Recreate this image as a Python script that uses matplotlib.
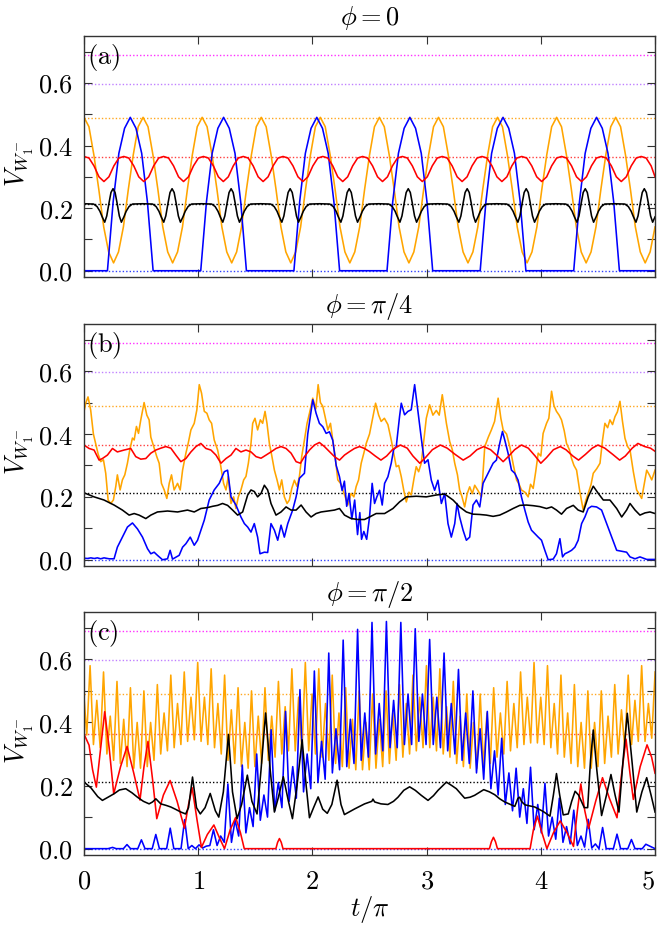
import numpy as np
import matplotlib
matplotlib.use("Agg")
import matplotlib.pyplot as plt

plt.rcParams['mathtext.fontset'] = 'cm'
plt.rcParams['font.family'] = 'serif'
plt.rcParams['font.serif'] = ['DejaVu Serif']

# reference levels (dotted lines), same in all panels
ref_levels = [0.0, 0.212, 0.364, 0.489, 0.597, 0.69]
ref_colors = ['#3040ff', '#000000', '#ff4040', '#ffa820', '#c080ff', '#ff30ff']

titles = [r'$\phi=0$', r'$\phi=\pi/4$', r'$\phi=\pi/2$']
labels = [r'$\mathrm{(a)}$', r'$\mathrm{(b)}$', r'$\mathrm{(c)}$']
ytick_vals = [0.0, 0.1, 0.2, 0.3, 0.4, 0.5, 0.6, 0.7]
ytick_text = ['$0.0$', '', '$0.2$', '', '$0.4$', '', '$0.6$', '']
xtick_vals = [0, 1, 2, 3, 4, 5]

# ---------------- panel (a): phi = 0 ----------------
t_orange_a = np.linspace(0, 5, 117)
orange_a = [
    0.49, 0.46, 0.37, 0.26, 0.14, 0.06, 0.025, 0.06, 0.14, 0.26, 0.37, 0.46,
    0.49, 0.46, 0.37, 0.26, 0.14, 0.06, 0.025, 0.06, 0.14, 0.26, 0.37, 0.46,
    0.49, 0.46, 0.37, 0.26, 0.14, 0.06, 0.025, 0.06, 0.14, 0.26, 0.37, 0.46,
    0.49, 0.46, 0.37, 0.26, 0.14, 0.06, 0.025, 0.06, 0.14, 0.26, 0.37, 0.46,
    0.49, 0.46, 0.37, 0.26, 0.14, 0.06, 0.025, 0.06, 0.14, 0.26, 0.37, 0.46,
    0.49, 0.46, 0.37, 0.26, 0.14, 0.06, 0.025, 0.06, 0.14, 0.26, 0.37, 0.46,
    0.49, 0.46, 0.37, 0.26, 0.14, 0.06, 0.025, 0.06, 0.14, 0.26, 0.37, 0.46,
    0.49, 0.46, 0.37, 0.26, 0.14, 0.06, 0.025, 0.06, 0.14, 0.26, 0.37, 0.46,
    0.49, 0.46, 0.37, 0.26, 0.14, 0.06, 0.025, 0.06, 0.14, 0.26, 0.37, 0.46,
    0.49, 0.46, 0.37, 0.26, 0.14, 0.06, 0.025, 0.06, 0.14,
]

t_red_a = np.append(0.04356 * np.arange(115), 5.0)
red_a = [
    0.365, 0.36, 0.335, 0.30, 0.285, 0.30, 0.335, 0.36,
    0.365, 0.36, 0.335, 0.30, 0.285, 0.30, 0.335, 0.36,
    0.365, 0.36, 0.335, 0.30, 0.285, 0.30, 0.335, 0.36,
    0.365, 0.36, 0.335, 0.30, 0.285, 0.30, 0.335, 0.36,
    0.365, 0.36, 0.335, 0.30, 0.285, 0.30, 0.335, 0.36,
    0.365, 0.36, 0.335, 0.30, 0.285, 0.30, 0.335, 0.36,
    0.365, 0.36, 0.335, 0.30, 0.285, 0.30, 0.335, 0.36,
    0.365, 0.36, 0.335, 0.30, 0.285, 0.30, 0.335, 0.36,
    0.365, 0.36, 0.335, 0.30, 0.285, 0.30, 0.335, 0.36,
    0.365, 0.36, 0.335, 0.30, 0.285, 0.30, 0.335, 0.36,
    0.365, 0.36, 0.335, 0.30, 0.285, 0.30, 0.335, 0.36,
    0.365, 0.36, 0.335, 0.30, 0.285, 0.30, 0.335, 0.36,
    0.365, 0.36, 0.335, 0.30, 0.285, 0.30, 0.335, 0.36,
    0.365, 0.36, 0.335, 0.30, 0.285, 0.30, 0.335, 0.36,
    0.365, 0.36, 0.335, 0.30,
]

blue_a = [
    (0.0, 0.0),
    (0.205, 0), (0.230, 0.11), (0.255, 0.22), (0.305, 0.375), (0.355, 0.455), (0.405, 0.49),
    (0.455, 0.455), (0.505, 0.375), (0.555, 0.22), (0.580, 0.11), (0.605, 0),
    (1.022, 0), (1.047, 0.11), (1.072, 0.22), (1.122, 0.375), (1.172, 0.455), (1.222, 0.49),
    (1.272, 0.455), (1.322, 0.375), (1.372, 0.22), (1.397, 0.11), (1.422, 0),
    (1.838, 0), (1.863, 0.11), (1.888, 0.22), (1.938, 0.375), (1.988, 0.455), (2.038, 0.49),
    (2.088, 0.455), (2.138, 0.375), (2.188, 0.22), (2.213, 0.11), (2.238, 0),
    (2.653, 0), (2.678, 0.11), (2.703, 0.22), (2.753, 0.375), (2.803, 0.455), (2.853, 0.49),
    (2.903, 0.455), (2.953, 0.375), (3.003, 0.22), (3.028, 0.11), (3.053, 0),
    (3.469, 0), (3.494, 0.11), (3.519, 0.22), (3.569, 0.375), (3.619, 0.455), (3.669, 0.49),
    (3.719, 0.455), (3.769, 0.375), (3.819, 0.22), (3.844, 0.11), (3.869, 0),
    (4.288, 0), (4.313, 0.11), (4.338, 0.22), (4.388, 0.375), (4.438, 0.455), (4.488, 0.49),
    (4.538, 0.455), (4.588, 0.375), (4.638, 0.22), (4.663, 0.11), (4.688, 0),
    (5.0, 0.0),
]

black_a = [
    (0.0, 0.214),
    (0.084, 0.213), (0.114, 0.205), (0.139, 0.19), (0.159, 0.172), (0.181, 0.155), (0.199, 0.175),
    (0.218, 0.215), (0.236, 0.25), (0.254, 0.262), (0.272, 0.25), (0.290, 0.215), (0.309, 0.175),
    (0.327, 0.155), (0.349, 0.172), (0.369, 0.19), (0.394, 0.205), (0.424, 0.213), (0.513, 0.214),
    (0.601, 0.213), (0.631, 0.205), (0.656, 0.19), (0.676, 0.172), (0.698, 0.155), (0.716, 0.175),
    (0.735, 0.215), (0.753, 0.25), (0.771, 0.262), (0.789, 0.25), (0.807, 0.215), (0.826, 0.175),
    (0.844, 0.155), (0.866, 0.172), (0.886, 0.19), (0.911, 0.205), (0.941, 0.213), (1.030, 0.214),
    (1.118, 0.213), (1.148, 0.205), (1.173, 0.19), (1.193, 0.172), (1.215, 0.155), (1.233, 0.175),
    (1.252, 0.215), (1.270, 0.25), (1.288, 0.262), (1.306, 0.25), (1.324, 0.215), (1.343, 0.175),
    (1.361, 0.155), (1.383, 0.172), (1.403, 0.19), (1.428, 0.205), (1.458, 0.213), (1.547, 0.214),
    (1.635, 0.213), (1.665, 0.205), (1.690, 0.19), (1.710, 0.172), (1.732, 0.155), (1.750, 0.175),
    (1.769, 0.215), (1.787, 0.25), (1.805, 0.262), (1.823, 0.25), (1.841, 0.215), (1.860, 0.175),
    (1.878, 0.155), (1.900, 0.172), (1.920, 0.19), (1.945, 0.205), (1.975, 0.213), (2.064, 0.214),
    (2.152, 0.213), (2.182, 0.205), (2.207, 0.19), (2.227, 0.172), (2.249, 0.155), (2.267, 0.175),
    (2.286, 0.215), (2.304, 0.25), (2.322, 0.262), (2.340, 0.25), (2.358, 0.215), (2.377, 0.175),
    (2.395, 0.155), (2.417, 0.172), (2.437, 0.19), (2.462, 0.205), (2.492, 0.213), (2.581, 0.214),
    (2.669, 0.213), (2.699, 0.205), (2.724, 0.19), (2.744, 0.172), (2.766, 0.155), (2.784, 0.175),
    (2.803, 0.215), (2.821, 0.25), (2.839, 0.262), (2.857, 0.25), (2.875, 0.215), (2.894, 0.175),
    (2.912, 0.155), (2.934, 0.172), (2.954, 0.19), (2.979, 0.205), (3.009, 0.213), (3.098, 0.214),
    (3.185, 0.213), (3.215, 0.205), (3.240, 0.19), (3.260, 0.172), (3.282, 0.155), (3.300, 0.175),
    (3.319, 0.215), (3.337, 0.25), (3.355, 0.262), (3.373, 0.25), (3.391, 0.215), (3.410, 0.175),
    (3.428, 0.155), (3.450, 0.172), (3.470, 0.19), (3.495, 0.205), (3.525, 0.213), (3.614, 0.214),
    (3.702, 0.213), (3.732, 0.205), (3.757, 0.19), (3.777, 0.172), (3.799, 0.155), (3.817, 0.175),
    (3.836, 0.215), (3.854, 0.25), (3.872, 0.262), (3.890, 0.25), (3.908, 0.215), (3.927, 0.175),
    (3.945, 0.155), (3.967, 0.172), (3.987, 0.19), (4.012, 0.205), (4.042, 0.213), (4.131, 0.214),
    (4.219, 0.213), (4.249, 0.205), (4.274, 0.19), (4.294, 0.172), (4.316, 0.155), (4.334, 0.175),
    (4.353, 0.215), (4.371, 0.25), (4.389, 0.262), (4.407, 0.25), (4.425, 0.215), (4.444, 0.175),
    (4.462, 0.155), (4.484, 0.172), (4.504, 0.19), (4.529, 0.205), (4.559, 0.213), (4.648, 0.214),
    (4.736, 0.213), (4.766, 0.205), (4.791, 0.19), (4.811, 0.172), (4.833, 0.155), (4.851, 0.175),
    (4.870, 0.215), (4.888, 0.25), (4.906, 0.262), (4.924, 0.25), (4.942, 0.215), (4.961, 0.175),
    (4.979, 0.155), (5.0, 0.172),
]

# ---------------- panel (b): phi = pi/4 ----------------
orange_b = [
    (0.0, 0.472), (0.015, 0.498), (0.035, 0.518), (0.058, 0.477), (0.082, 0.40), (0.102, 0.37),
    (0.123, 0.337), (0.146, 0.312), (0.170, 0.318), (0.190, 0.275), (0.211, 0.19), (0.234, 0.179),
    (0.257, 0.19), (0.278, 0.233), (0.292, 0.27), (0.316, 0.222), (0.336, 0.254), (0.357, 0.27),
    (0.380, 0.307), (0.401, 0.35), (0.424, 0.387), (0.439, 0.381), (0.459, 0.424), (0.477, 0.402),
    (0.497, 0.445), (0.526, 0.50), (0.550, 0.46), (0.570, 0.445), (0.585, 0.39), (0.614, 0.355),
    (0.637, 0.328), (0.658, 0.307), (0.678, 0.243), (0.702, 0.222), (0.725, 0.195), (0.746, 0.243),
    (0.766, 0.27), (0.789, 0.222), (0.819, 0.243), (0.842, 0.222), (0.863, 0.285), (0.892, 0.339),
    (0.912, 0.37), (0.936, 0.413), (0.965, 0.434), (0.988, 0.477), (1.009, 0.557), (1.029, 0.53),
    (1.053, 0.472), (1.076, 0.466), (1.096, 0.445), (1.117, 0.434), (1.140, 0.381), (1.170, 0.349),
    (1.193, 0.307), (1.222, 0.243), (1.243, 0.222), (1.263, 0.265), (1.287, 0.179), (1.310, 0.20),
    (1.330, 0.163), (1.351, 0.20), (1.374, 0.222), (1.398, 0.254), (1.418, 0.265), (1.439, 0.307),
    (1.462, 0.37), (1.477, 0.434), (1.497, 0.45), (1.520, 0.413), (1.544, 0.445), (1.564, 0.434),
    (1.585, 0.472), (1.602, 0.434), (1.623, 0.37), (1.643, 0.333), (1.667, 0.285), (1.690, 0.254),
    (1.711, 0.222), (1.731, 0.254), (1.754, 0.20), (1.778, 0.179), (1.798, 0.19), (1.819, 0.227),
    (1.842, 0.253), (1.865, 0.233), (1.886, 0.265), (1.906, 0.328), (1.930, 0.381), (1.953, 0.434),
    (1.974, 0.466), (2.003, 0.514), (2.030, 0.48), (2.050, 0.557), (2.070, 0.50), (2.091, 0.488),
    (2.111, 0.455), (2.135, 0.413), (2.158, 0.434), (2.178, 0.381), (2.199, 0.328), (2.222, 0.254),
    (2.246, 0.243), (2.266, 0.222), (2.287, 0.20), (2.310, 0.174), (2.339, 0.211), (2.363, 0.20),
    (2.383, 0.233), (2.404, 0.254), (2.427, 0.307), (2.450, 0.339), (2.471, 0.37), (2.500, 0.40),
    (2.553, 0.498), (2.580, 0.46), (2.602, 0.44), (2.630, 0.45), (2.661, 0.43), (2.690, 0.381),
    (2.734, 0.296), (2.755, 0.30), (2.778, 0.264), (2.800, 0.22), (2.822, 0.184), (2.845, 0.215),
    (2.865, 0.206), (2.890, 0.26), (2.909, 0.296), (2.930, 0.28), (2.953, 0.307), (2.975, 0.38),
    (2.997, 0.45), (3.026, 0.493), (3.055, 0.46), (3.085, 0.475), (3.110, 0.46), (3.137, 0.525),
    (3.173, 0.434), (3.202, 0.376), (3.225, 0.35), (3.246, 0.307), (3.270, 0.27), (3.289, 0.222),
    (3.310, 0.20), (3.333, 0.168), (3.355, 0.21), (3.377, 0.232), (3.400, 0.21), (3.421, 0.237),
    (3.450, 0.22), (3.480, 0.20), (3.509, 0.36), (3.540, 0.39), (3.567, 0.413), (3.595, 0.44),
    (3.626, 0.514), (3.650, 0.45), (3.670, 0.413), (3.700, 0.40), (3.728, 0.36), (3.760, 0.30),
    (3.787, 0.254), (3.810, 0.24), (3.830, 0.222), (3.860, 0.215), (3.889, 0.20), (3.910, 0.24),
    (3.933, 0.227), (3.955, 0.28), (3.977, 0.339), (4.000, 0.33), (4.020, 0.402), (4.050, 0.434),
    (4.070, 0.45), (4.094, 0.536), (4.115, 0.49), (4.137, 0.472), (4.160, 0.46), (4.181, 0.445),
    (4.205, 0.41), (4.225, 0.37), (4.250, 0.35), (4.269, 0.322), (4.290, 0.30), (4.313, 0.285),
    (4.340, 0.22), (4.371, 0.158), (4.395, 0.19), (4.415, 0.211), (4.440, 0.24), (4.459, 0.275),
    (4.490, 0.29), (4.518, 0.307), (4.540, 0.38), (4.561, 0.434), (4.585, 0.42), (4.605, 0.445),
    (4.628, 0.43), (4.649, 0.455), (4.670, 0.47), (4.693, 0.504), (4.715, 0.44), (4.737, 0.386),
    (4.760, 0.36), (4.781, 0.349), (4.810, 0.28), (4.839, 0.222), (4.860, 0.21), (4.883, 0.195),
    (4.905, 0.24), (4.927, 0.285), (4.950, 0.27), (4.971, 0.254), (5.0, 0.285),
]

red_b = [
    (0.0, 0.365), (0.044, 0.354), (0.088, 0.349), (0.132, 0.317), (0.161, 0.322), (0.205, 0.333),
    (0.249, 0.354), (0.292, 0.343), (0.351, 0.349), (0.409, 0.354), (0.453, 0.328), (0.497, 0.32),
    (0.541, 0.322), (0.585, 0.339), (0.629, 0.349), (0.673, 0.355), (0.716, 0.36), (0.760, 0.355),
    (0.804, 0.333), (0.848, 0.312), (0.892, 0.322), (0.936, 0.343), (0.980, 0.36), (1.023, 0.37),
    (1.067, 0.354), (1.111, 0.349), (1.155, 0.333), (1.199, 0.307), (1.243, 0.322), (1.287, 0.333),
    (1.330, 0.354), (1.374, 0.343), (1.418, 0.349), (1.462, 0.343), (1.506, 0.328), (1.550, 0.323),
    (1.594, 0.333), (1.637, 0.343), (1.681, 0.354), (1.725, 0.36), (1.769, 0.354), (1.813, 0.339),
    (1.857, 0.312), (1.895, 0.307), (1.930, 0.328), (1.974, 0.349), (2.018, 0.365), (2.061, 0.373),
    (2.105, 0.36), (2.149, 0.344), (2.193, 0.328), (2.237, 0.317), (2.281, 0.333), (2.325, 0.344),
    (2.368, 0.354), (2.412, 0.36), (2.456, 0.354), (2.500, 0.344), (2.550, 0.33), (2.600, 0.317),
    (2.650, 0.33), (2.700, 0.35), (2.770, 0.365), (2.830, 0.355), (2.880, 0.33), (2.940, 0.307),
    (2.990, 0.325), (3.050, 0.35), (3.120, 0.365), (3.180, 0.355), (3.250, 0.335), (3.320, 0.317),
    (3.380, 0.33), (3.440, 0.35), (3.500, 0.36), (3.560, 0.35), (3.620, 0.33), (3.670, 0.312),
    (3.720, 0.33), (3.770, 0.35), (3.830, 0.365), (3.890, 0.355), (3.950, 0.33), (4.000, 0.307),
    (4.050, 0.325), (4.110, 0.35), (4.170, 0.36), (4.220, 0.35), (4.280, 0.33), (4.330, 0.317),
    (4.390, 0.335), (4.450, 0.355), (4.500, 0.365), (4.560, 0.355), (4.630, 0.335), (4.690, 0.317),
    (4.740, 0.33), (4.800, 0.355), (4.850, 0.37), (4.910, 0.36), (4.960, 0.355), (5.0, 0.345),
]

black_b = [
    (0.0, 0.213), (0.088, 0.20), (0.175, 0.19), (0.263, 0.174), (0.336, 0.158), (0.395, 0.142),
    (0.439, 0.147), (0.482, 0.142), (0.541, 0.131), (0.585, 0.142), (0.643, 0.152), (0.731, 0.155),
    (0.819, 0.152), (0.906, 0.158), (0.965, 0.152), (1.023, 0.163), (1.082, 0.166), (1.126, 0.17),
    (1.170, 0.173), (1.213, 0.179), (1.257, 0.173), (1.301, 0.158), (1.345, 0.142), (1.389, 0.152),
    (1.433, 0.206), (1.462, 0.222), (1.491, 0.217), (1.520, 0.20), (1.550, 0.211), (1.579, 0.237),
    (1.608, 0.222), (1.637, 0.179), (1.681, 0.142), (1.725, 0.152), (1.769, 0.168), (1.813, 0.158),
    (1.857, 0.158), (1.901, 0.174), (1.944, 0.152), (1.988, 0.136), (2.032, 0.147), (2.076, 0.152),
    (2.135, 0.155), (2.193, 0.158), (2.237, 0.163), (2.281, 0.142), (2.339, 0.131), (2.398, 0.128),
    (2.456, 0.128), (2.500, 0.136), (2.558, 0.147), (2.632, 0.147), (2.705, 0.163), (2.763, 0.184),
    (2.822, 0.20), (2.909, 0.202), (2.997, 0.20), (3.085, 0.206), (3.158, 0.209), (3.231, 0.19),
    (3.289, 0.168), (3.348, 0.152), (3.406, 0.145), (3.465, 0.144), (3.523, 0.142), (3.582, 0.138),
    (3.640, 0.142), (3.699, 0.152), (3.757, 0.163), (3.816, 0.173), (3.874, 0.174), (3.933, 0.172),
    (3.991, 0.169), (4.050, 0.163), (4.094, 0.168), (4.137, 0.158), (4.181, 0.145), (4.225, 0.163),
    (4.284, 0.173), (4.327, 0.158), (4.371, 0.152), (4.415, 0.20), (4.459, 0.234), (4.503, 0.211),
    (4.547, 0.19), (4.605, 0.19), (4.664, 0.163), (4.708, 0.136), (4.751, 0.158), (4.781, 0.179),
    (4.825, 0.158), (4.868, 0.142), (4.912, 0.149), (4.956, 0.152), (5.0, 0.147),
]

blue_b = [
    (0.0, 0.005), (0.03, 0.004), (0.06, 0.006), (0.09, 0.004), (0.117, 0.006), (0.146, 0.003),
    (0.175, 0.006), (0.22, 0.003), (0.263, 0.003), (0.292, 0.04), (0.336, 0.072), (0.380, 0.104),
    (0.424, 0.117), (0.468, 0.098), (0.512, 0.072), (0.556, 0.035), (0.585, 0.019), (0.614, 0.024),
    (0.643, 0.014), (0.687, 0.0), (0.731, 0.003), (0.754, 0.03), (0.775, 0.002), (0.804, 0.008),
    (0.833, 0.014), (0.863, 0.04), (0.892, 0.051), (0.930, 0.072), (0.965, 0.046), (0.994, 0.062),
    (1.023, 0.094), (1.053, 0.126), (1.096, 0.19), (1.140, 0.222), (1.184, 0.243), (1.228, 0.28),
    (1.257, 0.285), (1.287, 0.20), (1.330, 0.174), (1.374, 0.136), (1.404, 0.115), (1.433, 0.104),
    (1.462, 0.088), (1.491, 0.115), (1.520, 0.072), (1.541, 0.019), (1.579, 0.024), (1.608, 0.023),
    (1.637, 0.115), (1.667, 0.094), (1.696, 0.062), (1.725, 0.11), (1.754, 0.072), (1.784, 0.115),
    (1.827, 0.158), (1.857, 0.20), (1.886, 0.259), (1.930, 0.275), (1.959, 0.40), (2.003, 0.509),
    (2.032, 0.466), (2.061, 0.434), (2.091, 0.423), (2.120, 0.402), (2.149, 0.407), (2.178, 0.38),
    (2.208, 0.30), (2.237, 0.264), (2.260, 0.22), (2.280, 0.25), (2.300, 0.17), (2.320, 0.21),
    (2.345, 0.13), (2.370, 0.19), (2.395, 0.08), (2.415, 0.15), (2.430, 0.065), (2.450, 0.09),
    (2.475, 0.065), (2.500, 0.136), (2.523, 0.243), (2.544, 0.179), (2.564, 0.20), (2.588, 0.221),
    (2.611, 0.174), (2.632, 0.243), (2.661, 0.264), (2.690, 0.307), (2.711, 0.35), (2.734, 0.36),
    (2.763, 0.456), (2.778, 0.498), (2.807, 0.461), (2.836, 0.472), (2.865, 0.477), (2.895, 0.557),
    (2.924, 0.472), (2.953, 0.387), (2.982, 0.307), (3.012, 0.318), (3.041, 0.253), (3.070, 0.221),
    (3.099, 0.253), (3.129, 0.179), (3.158, 0.211), (3.187, 0.115), (3.216, 0.072), (3.246, 0.115),
    (3.266, 0.179), (3.289, 0.136), (3.319, 0.094), (3.348, 0.062), (3.377, 0.072), (3.406, 0.174),
    (3.436, 0.19), (3.465, 0.168), (3.494, 0.243), (3.523, 0.264), (3.553, 0.285), (3.582, 0.307),
    (3.611, 0.317), (3.640, 0.37), (3.664, 0.408), (3.684, 0.381), (3.713, 0.339), (3.743, 0.285),
    (3.772, 0.275), (3.801, 0.253), (3.830, 0.20), (3.860, 0.158), (3.889, 0.12), (3.918, 0.094),
    (3.947, 0.083), (3.977, 0.072), (4.006, 0.062), (4.035, 0.03), (4.064, 0.0), (4.108, 0.002),
    (4.137, 0.019), (4.167, 0.067), (4.190, 0.009), (4.211, 0.019), (4.240, 0.024), (4.269, 0.03),
    (4.298, 0.04), (4.327, 0.062), (4.357, 0.115), (4.386, 0.136), (4.415, 0.163), (4.444, 0.17),
    (4.488, 0.168), (4.532, 0.158), (4.576, 0.115), (4.620, 0.072), (4.664, 0.03), (4.708, 0.027),
    (4.751, 0.024), (4.781, 0.009), (4.825, 0.003), (4.868, 0.009), (4.927, 0.001), (5.0, 0.001),
]

# ---------------- panel (c): phi = pi/2 ----------------
# orange: alternating peak / trough, peaks every 0.0589
t_orange_c = np.concatenate([[0.0, 0.024], 0.053 + 0.02945 * np.arange(169)])
orange_c = [
    0.48, 0.36,
    0.58, 0.33, 0.47, 0.32, 0.56, 0.30, 0.42, 0.28, 0.53, 0.27, 0.41, 0.26,
    0.51, 0.255, 0.40, 0.255, 0.50, 0.26, 0.40, 0.28, 0.52, 0.30, 0.43, 0.31,
    0.55, 0.32, 0.46, 0.33, 0.56, 0.34, 0.48, 0.345, 0.59, 0.34, 0.48, 0.33,
    0.57, 0.32, 0.46, 0.30, 0.55, 0.28, 0.44, 0.27, 0.51, 0.26, 0.40, 0.255,
    0.50, 0.26, 0.42, 0.27, 0.51, 0.28, 0.42, 0.29, 0.53, 0.30, 0.45, 0.31,
    0.57, 0.31, 0.48, 0.31, 0.59, 0.31, 0.49, 0.30, 0.57, 0.29, 0.46, 0.28,
    0.55, 0.27, 0.43, 0.26, 0.51, 0.255, 0.41, 0.25, 0.50, 0.25, 0.40, 0.25,
    0.49, 0.255, 0.41, 0.26, 0.50, 0.27, 0.43, 0.28, 0.52, 0.29, 0.46, 0.30,
    0.55, 0.31, 0.48, 0.32, 0.58, 0.32, 0.48, 0.31, 0.57, 0.30, 0.45, 0.29,
    0.53, 0.27, 0.42, 0.26, 0.49, 0.255, 0.40, 0.255, 0.49, 0.26, 0.43, 0.27,
    0.51, 0.29, 0.43, 0.30, 0.53, 0.31, 0.46, 0.32, 0.56, 0.33, 0.48, 0.335,
    0.59, 0.335, 0.48, 0.33, 0.58, 0.32, 0.46, 0.30, 0.55, 0.29, 0.43, 0.27,
    0.52, 0.26, 0.40, 0.255, 0.50, 0.255, 0.40, 0.26, 0.50, 0.27, 0.42, 0.29,
    0.52, 0.30, 0.44, 0.32, 0.55, 0.33, 0.47, 0.34, 0.58, 0.34, 0.46, 0.35,
    0.56,
]

# blue: groups of (main peak, trough, side peak, trough), main peaks every 0.1262
t_blue_c = np.concatenate([[0.0, 0.21], 0.25 + 0.03155 * np.arange(149), [5.0]])
blue_c = [
    0.0, 0.0,
    0.004, 0, 0, 0,   0.013, 0, 0, 0,   0.028, 0, 0, 0,   0.045, 0, 0, 0,
    0.065, 0, 0, 0,   0.092, 0, 0.01, 0,   0.012, 0.002, 0.008, 0.01,
    0.06, 0.01, 0.04, 0.02,   0.205, 0.02, 0.09, 0.04,   0.265, 0.05, 0.13, 0.07,
    0.30, 0.09, 0.17, 0.10,   0.377, 0.12, 0.21, 0.13,   0.435, 0.15, 0.26, 0.16,
    0.504, 0.18, 0.30, 0.19,   0.563, 0.21, 0.34, 0.22,   0.62, 0.24, 0.38, 0.25,
    0.661, 0.26, 0.41, 0.27,   0.695, 0.28, 0.43, 0.29,   0.717, 0.30, 0.46, 0.31,
    0.72, 0.32, 0.47, 0.32,   0.717, 0.33, 0.49, 0.33,   0.697, 0.34, 0.49, 0.33,
    0.663, 0.33, 0.48, 0.32,   0.62, 0.31, 0.46, 0.30,   0.568, 0.28, 0.43, 0.27,
    0.50, 0.24, 0.38, 0.22,   0.435, 0.19, 0.31, 0.17,   0.35, 0.14, 0.24, 0.12,
    0.255, 0.10, 0.19, 0.08,   0.258, 0.06, 0.14, 0.05,   0.207, 0.04, 0.10, 0.03,
    0.16, 0.02, 0.07, 0.015,   0.122, 0.01, 0.04, 0.005,   0.093, 0.002, 0.015, 0,
    0.067, 0, 0, 0,   0.046, 0, 0, 0,   0.029, 0, 0, 0,
    0.014,
    0.0,
]

red_c = [
    (0.0, 0.363), (0.044, 0.328), (0.075, 0.25), (0.108, 0.195), (0.14, 0.30), (0.181, 0.434),
    (0.22, 0.32), (0.26, 0.174), (0.32, 0.26), (0.377, 0.324), (0.435, 0.24), (0.49, 0.154),
    (0.525, 0.26), (0.56, 0.34), (0.60, 0.22), (0.637, 0.095), (0.695, 0.17), (0.754, 0.216),
    (0.815, 0.15), (0.879, 0.065), (0.915, 0.14), (0.947, 0.193), (0.99, 0.09), (1.028, 0.004),
    (1.08, 0.045), (1.137, 0.075), (1.185, 0.035), (1.23, 0.0), (1.28, 0.06), (1.328, 0.099),
    (1.37, 0.05), (1.403, 0.0), (1.68, 0.0), (1.695, 0.02), (1.711, 0.032), (1.727, 0.02),
    (1.742, 0.0), (3.55, 0.0), (3.567, 0.022), (3.585, 0.036), (3.603, 0.022), (3.62, 0.0),
    (3.906, 0.0), (3.935, 0.06), (3.97, 0.103), (4.01, 0.05), (4.053, 0.0), (4.11, 0.05),
    (4.17, 0.088), (4.23, 0.05), (4.286, 0.007), (4.32, 0.12), (4.35, 0.205), (4.385, 0.12),
    (4.418, 0.064), (4.48, 0.15), (4.54, 0.225), (4.60, 0.16), (4.667, 0.098), (4.705, 0.23),
    (4.746, 0.347), (4.78, 0.24), (4.81, 0.156), (4.87, 0.26), (4.93, 0.329), (4.97, 0.29),
    (5.0, 0.239),
]

black_c = [
    (0.0, 0.211), (0.06, 0.193), (0.12, 0.165), (0.161, 0.153), (0.21, 0.163), (0.263, 0.174),
    (0.31, 0.186), (0.365, 0.19), (0.42, 0.177), (0.468, 0.163), (0.52, 0.15), (0.570, 0.142),
    (0.60, 0.148), (0.629, 0.158), (0.672, 0.142), (0.72, 0.137), (0.760, 0.132), (0.80, 0.125),
    (0.848, 0.116), (0.89, 0.11), (0.915, 0.13), (0.950, 0.227), (0.985, 0.13), (1.018, 0.11),
    (1.06, 0.13), (1.105, 0.175), (1.15, 0.12), (1.18, 0.10), (1.22, 0.18), (1.265, 0.362),
    (1.30, 0.18), (1.34, 0.095), (1.38, 0.14), (1.43, 0.233), (1.47, 0.15), (1.515, 0.11),
    (1.55, 0.25), (1.59, 0.43), (1.63, 0.25), (1.667, 0.116), (1.70, 0.16), (1.745, 0.228),
    (1.79, 0.15), (1.825, 0.095), (1.865, 0.20), (1.91, 0.345), (1.945, 0.20), (1.974, 0.098),
    (2.01, 0.13), (2.05, 0.164), (2.09, 0.125), (2.13, 0.112), (2.17, 0.14), (2.216, 0.217),
    (2.25, 0.14), (2.28, 0.108), (2.33, 0.118), (2.37, 0.126), (2.457, 0.142), (2.52, 0.15),
    (2.53, 0.157), (2.545, 0.148), (2.60, 0.142), (2.661, 0.14), (2.71, 0.15), (2.749, 0.163),
    (2.80, 0.185), (2.851, 0.196), (2.90, 0.185), (2.953, 0.169), (3.012, 0.153), (3.06, 0.168),
    (3.10, 0.185), (3.173, 0.211), (3.22, 0.20), (3.26, 0.19), (3.333, 0.16), (3.38, 0.163),
    (3.42, 0.169), (3.50, 0.187), (3.55, 0.18), (3.596, 0.171), (3.64, 0.158), (3.684, 0.148),
    (3.772, 0.134), (3.80, 0.16), (3.815, 0.163), (3.83, 0.15), (3.86, 0.139), (3.947, 0.132),
    (4.02, 0.118), (4.08, 0.103), (4.11, 0.17), (4.137, 0.238), (4.165, 0.17), (4.196, 0.107),
    (4.24, 0.11), (4.27, 0.15), (4.30, 0.182), (4.33, 0.17), (4.38, 0.13), (4.41, 0.13),
    (4.435, 0.28), (4.459, 0.376), (4.49, 0.25), (4.532, 0.105), (4.575, 0.17), (4.614, 0.235),
    (4.65, 0.17), (4.684, 0.116), (4.72, 0.28), (4.757, 0.429), (4.80, 0.27), (4.84, 0.116),
    (4.885, 0.18), (4.927, 0.225), (4.965, 0.17), (5.0, 0.116),
]


def xy(pairs):
    arr = np.array(pairs, dtype=float)
    return arr[:, 0], arr[:, 1]


panels = [
    [(t_orange_a, orange_a, 'orange'), (*xy(blue_a), 'blue'),
     (t_red_a, red_a, 'red'), (*xy(black_a), 'black')],
    [(*xy(orange_b), 'orange'), (*xy(blue_b), 'blue'),
     (*xy(red_b), 'red'), (*xy(black_b), 'black')],
    [(t_orange_c, orange_c, 'orange'), (t_blue_c, blue_c, 'blue'),
     (*xy(red_c), 'red'), (*xy(black_c), 'black')],
]

line_colors = {'orange': '#ffa500', 'blue': '#0000ff', 'red': '#ff0000', 'black': '#000000'}

fig = plt.figure(figsize=(6.58, 9.27), dpi=100)
boxes = [
    [0.1277, 0.7012, 0.8678, 0.2600],
    [0.1277, 0.3894, 0.8678, 0.2611],
    [0.1277, 0.0777, 0.8678, 0.2621],
]

fs = 19
for i, box in enumerate(boxes):
    ax = fig.add_axes(box)
    for lev, col in zip(ref_levels, ref_colors):
        ax.axhline(lev, color=col, lw=1.0, ls=(0, (1, 1.5)), zorder=1)
    for t, v, name in panels[i]:
        ax.plot(t, v, color=line_colors[name], lw=1.15, zorder=2)

    ax.set_xlim(0, 5)
    ax.set_ylim(-0.02, 0.75)
    ax.set_yticks(ytick_vals)
    ax.set_yticklabels(ytick_text, fontsize=fs)
    ax.set_xticks(xtick_vals)
    if i == 2:
        ax.set_xticklabels(['$%d$' % v for v in xtick_vals], fontsize=fs)
        ax.set_xlabel(r'$t/\pi$', fontsize=fs, labelpad=0)
        # the "5" sits at the figure edge: right-align it so it stays inside
        ax.get_xticklabels()[-1].set_horizontalalignment('right')
    else:
        ax.set_xticklabels([])
    ax.tick_params(direction='in', top=True, right=True, length=6, width=0.8,
                   color='#333333')
    ax.tick_params(axis='y', pad=8)
    ax.tick_params(axis='x', pad=10)
    for sp in ax.spines.values():
        sp.set_linewidth(1.0)
        sp.set_color('#333333')

    ax.set_title(titles[i], fontsize=fs, pad=8)
    ax.text(0.006, 0.912, labels[i], transform=ax.transAxes, fontsize=fs,
            ha='left', va='center')
    ax.set_ylabel(r'$V_{W_1^{-}}$', fontsize=fs)
    ax.yaxis.set_label_coords(-0.084, 0.47)

fig.savefig('out.png', dpi=100)
